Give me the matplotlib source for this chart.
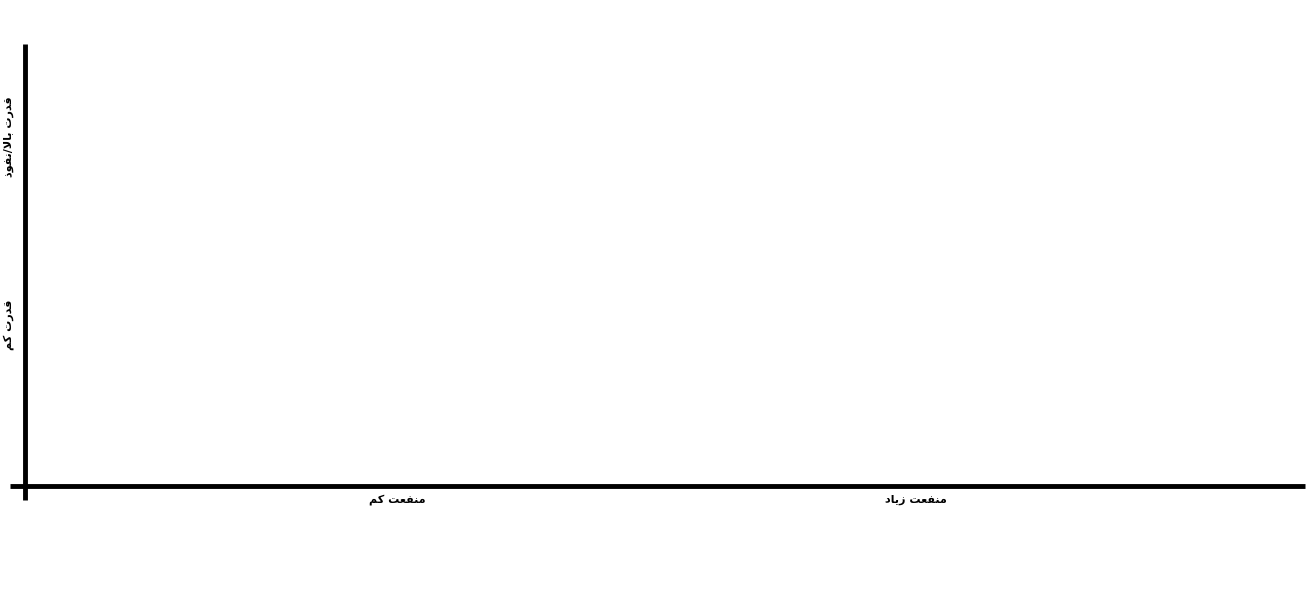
import matplotlib
matplotlib.use('Agg')
import matplotlib.pyplot as plt

# -- data
x_labels = ['منفعت کم', 'منفعت زیاد']
y_labels = ['قدرت کم', 'قدرت بالا/نفوذ']
x_pos = [0.291, 0.696]
y_pos = [0.364, 0.79]

# -- tiny arabic shaper (matplotlib does no shaping / bidi)
# forms: isolated, final, initial, medial
FORMS = {
    'م': (0xFEE1, 0xFEE2, 0xFEE3, 0xFEE4),
    'ن': (0xFEE5, 0xFEE6, 0xFEE7, 0xFEE8),
    'ف': (0xFED1, 0xFED2, 0xFED3, 0xFED4),
    'ع': (0xFEC9, 0xFECA, 0xFECB, 0xFECC),
    'ت': (0xFE95, 0xFE96, 0xFE97, 0xFE98),
    'ک': (0xFB8E, 0xFB8F, 0xFB90, 0xFB91),
    'ی': (0xFBFC, 0xFBFD, 0xFBFE, 0xFBFF),
    'ق': (0xFED5, 0xFED6, 0xFED7, 0xFED8),
    'ب': (0xFE8F, 0xFE90, 0xFE91, 0xFE92),
    'ل': (0xFEDD, 0xFEDE, 0xFEDF, 0xFEE0),
    'ز': (0xFEAF, 0xFEB0, None, None),
    'ا': (0xFE8D, 0xFE8E, None, None),
    'د': (0xFEA9, 0xFEAA, None, None),
    'ر': (0xFEAD, 0xFEAE, None, None),
    'و': (0xFEED, 0xFEEE, None, None),
    'ذ': (0xFEAB, 0xFEAC, None, None),
}

def dual(c):
    return c in FORMS and FORMS[c][2] is not None

def shape(s):
    # lam-alef ligature first
    chars = []
    i = 0
    while i < len(s):
        if s[i] == 'ل' and i + 1 < len(s) and s[i+1] == 'ا':
            chars.append('LA')
            i += 2
        else:
            chars.append(s[i])
            i += 1
    out = []
    for i, c in enumerate(chars):
        prev = chars[i-1] if i > 0 else None
        nxt = chars[i+1] if i < len(chars) - 1 else None
        join_prev = prev is not None and dual(prev)
        if c == 'LA':
            out.append(chr(0xFEFC if join_prev else 0xFEFB))
            continue
        if c not in FORMS:
            out.append(c)
            continue
        join_next = dual(c) and nxt is not None and (nxt in FORMS or nxt == 'LA')
        f = FORMS[c]
        if join_prev and join_next:
            out.append(chr(f[3]))
        elif join_prev:
            out.append(chr(f[1]))
        elif join_next:
            out.append(chr(f[2]))
        else:
            out.append(chr(f[0]))
    return ''.join(out[::-1])

# -- plot
fig = plt.figure(figsize=(13.15, 6.07), dpi=100)
ax = fig.add_axes([10/1315., 107/607., 1295/1315., 456/607.])
ax.set_xlim(-15/1280., 1)
ax.set_ylim(-14/442., 1)

for side in ['top', 'right']:
    ax.spines[side].set_visible(False)
ax.spines['left'].set_position(('data', 0))
ax.spines['bottom'].set_position(('data', 0))
ax.spines['left'].set_linewidth(3.5)
ax.spines['bottom'].set_linewidth(3.5)
ax.spines['left'].set_capstyle('butt')
ax.spines['bottom'].set_capstyle('butt')

ax.set_xticks(x_pos)
ax.set_xticklabels([shape(t) for t in x_labels], fontsize=8, fontweight='bold',
                   family='DejaVu Sans')
ax.set_yticks(y_pos)
ax.set_yticklabels([shape(t) for t in y_labels], fontsize=8, fontweight='bold',
                   family='DejaVu Sans', rotation=90, va='center')
ax.tick_params(axis='x', length=0, pad=6)
ax.tick_params(axis='y', length=0, pad=8)

fig.savefig('out.png', dpi=100)
